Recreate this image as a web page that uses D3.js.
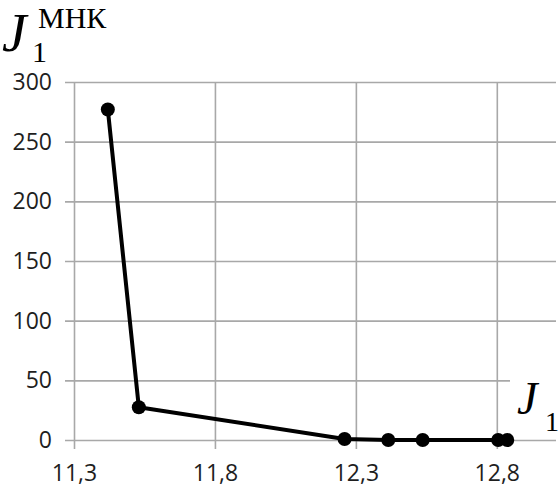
<!DOCTYPE html>
<html>
<head>
<meta charset="utf-8">
<script src="https://cdn.jsdelivr.net/npm/d3@7"></script>
<style>
  html, body { margin: 0; padding: 0; background: #fff; }
  svg { display: block; }
</style>
</head>
<body>
<svg id="chart" width="558" height="488"></svg>
<script>
// J1 values (x) against the least-squares criterion J1^МНК (y)
const xValues = [11.42, 11.53, 12.26, 12.415, 12.537, 12.805, 12.837];
const yValues = [277, 27.5, 0.8, 0, 0, 0, 0];
const xTicks = [11.3, 11.8, 12.3, 12.8];
const yTicks = [0, 50, 100, 150, 200, 250, 300];
const xDomain = [11.3, 13.01];
const yDomain = [0, 300];

const svg = d3.select("#chart");
const W = 558, H = 488;
const margin = { left: 74, right: 2, top: 82, bottom: 48 };

const x = d3.scaleLinear().domain(xDomain).range([margin.left, W - margin.right]);
const y = d3.scaleLinear().domain(yDomain).range([H - margin.bottom, margin.top]);

const gridColor = "#a8a8a8";
const tickOut = 9;
const fmt = v => d3.format(".1f")(v).replace(".", ",");
const serif = "'Liberation Serif', 'Times New Roman', serif";

// horizontal grid lines with tick stubs on the left
const yAxis = d3.axisLeft(y)
  .tickValues(yTicks)
  .tickSize(0)
  .tickFormat(d3.format("d"))
  .tickPadding(13);
const gy = svg.append("g")
  .attr("transform", `translate(${margin.left - tickOut},0)`)
  .call(yAxis);
gy.select(".domain").remove();
gy.selectAll(".tick line")
  .attr("x1", 0)
  .attr("x2", x.range()[1] - x.range()[0] + tickOut)
  .attr("stroke", gridColor).attr("stroke-width", 1.6);

// vertical grid lines with tick stubs below
const xAxis = d3.axisBottom(x)
  .tickValues(xTicks)
  .tickFormat(fmt)
  .tickSize(0)
  .tickPadding(25);
const gx = svg.append("g")
  .attr("transform", `translate(0,${y(0)})`)
  .call(xAxis);
gx.select(".domain").remove();
gx.selectAll(".tick line")
  .attr("y1", tickOut)
  .attr("y2", y(yDomain[1]) - y(0))
  .attr("stroke", gridColor).attr("stroke-width", 1.6);

svg.selectAll(".tick text")
  .attr("font-family", "'Open Sans', sans-serif")
  .attr("font-size", 23)
  .attr("fill", "#1e1e1e");

// axis title on the right, on a white backing
const xTitleX = x.range()[1] - 46;
svg.append("rect")
  .attr("x", xTitleX).attr("y", 370).attr("width", 60).attr("height", 62)
  .attr("fill", "#fff");
svg.append("text")
  .attr("x", xTitleX + 7).attr("y", 414)
  .attr("font-family", serif).attr("font-style", "italic")
  .attr("font-size", 46).attr("fill", "#000")
  .text("J");
svg.append("text")
  .attr("x", xTitleX + 35).attr("y", 431)
  .attr("font-family", serif)
  .attr("font-size", 28).attr("fill", "#000")
  .text("1");

// axis title at the top left
svg.append("text")
  .attr("x", 2).attr("y", 51)
  .attr("font-family", serif).attr("font-style", "italic")
  .attr("font-size", 55).attr("fill", "#000")
  .text("J");
svg.append("text")
  .attr("x", 32).attr("y", 62)
  .attr("font-family", serif)
  .attr("font-size", 30).attr("fill", "#000")
  .text("1");
svg.append("text")
  .attr("x", 38).attr("y", 28)
  .attr("font-family", serif)
  .attr("font-size", 30).attr("fill", "#000")
  .text("МНК");

// the series line and markers
const pts = xValues.map((v, i) => [v, yValues[i]]);
svg.append("path")
  .datum(pts)
  .attr("fill", "none")
  .attr("stroke", "#000")
  .attr("stroke-width", 4)
  .attr("stroke-linejoin", "round")
  .attr("d", d3.line().x(d => x(d[0])).y(d => y(d[1])));
svg.selectAll("circle.pt")
  .data(pts)
  .join("circle")
  .attr("class", "pt")
  .attr("cx", d => x(d[0]))
  .attr("cy", d => y(d[1]))
  .attr("r", 7)
  .attr("fill", "#000");
</script>
</body>
</html>
